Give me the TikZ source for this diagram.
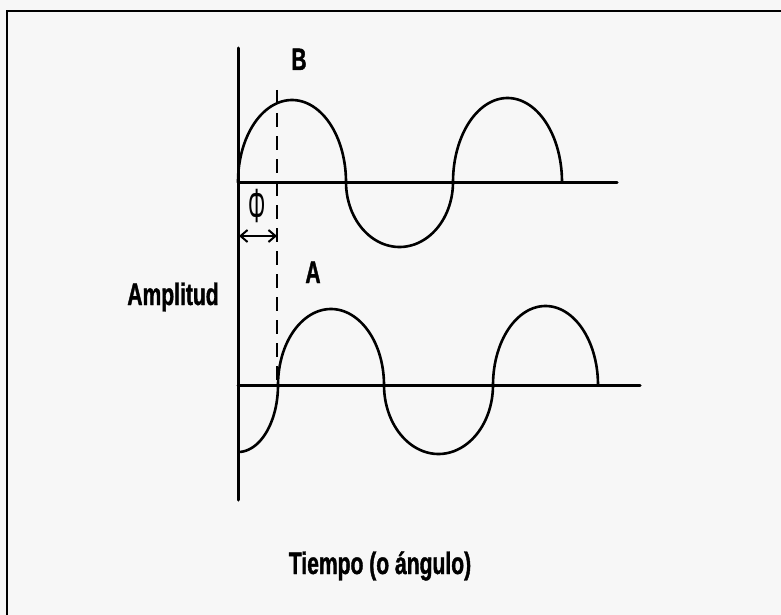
\documentclass[tikz,border=0pt]{standalone}
\usepackage{fontspec}
\setmainfont{Liberation Sans}
\newfontfamily\labfont[FakeStretch=0.68, FakeBold=1.2]{Liberation Sans}
\usetikzlibrary{arrows.meta}
\definecolor{bg}{RGB}{247,247,247}
\begin{document}
\begin{tikzpicture}[x=0.5pt,y=-0.5pt,
  axis/.style={line width=1.5pt, line cap=round},
  wave/.style={line width=1.3pt},
  frame/.style={line width=0.8pt},
  lab/.style={font=\labfont\bfseries\fontsize{15.5}{16}\selectfont, inner sep=0pt, anchor=base},
  phase/.style={line width=1pt, dash pattern=on 7pt off 4.5pt},
  span/.style={line width=1pt, {Straight Barb[length=3.5pt,width=6pt]}-{Straight Barb[length=3.5pt,width=6pt]}}]
\fill[bg] (0,0) rectangle (781,615);
\useasboundingbox (0,0) rectangle (781,615);
% frame
\draw[frame] (781,11) -- (7,11) -- (7,615);
% vertical axis
\coordinate (axtop) at (238,48);
\coordinate (axbot) at (238,500);
\draw[axis] (axtop) -- (axbot);
% baselines
\coordinate (bL) at (238,182);
\coordinate (bR) at (617,182);
\coordinate (aL) at (238,385);
\coordinate (aR) at (640,385);
\draw[axis] (bL) -- (bR);
\draw[axis] (aL) -- (aR);
% wave B
\draw[wave] plot[domain=180:0, samples=60, smooth] ({292+54*cos(\x)},{182-82*sin(\x)});
\draw[wave] plot[domain=180:360, samples=60, smooth] ({399.5+53.5*cos(\x)},{182-65*sin(\x)});
\draw[wave] plot[domain=180:0, samples=60, smooth] ({507.5+54.5*cos(\x)},{182-84*sin(\x)});
% wave A
\draw[wave] plot[domain=270:360, samples=40, smooth] ({238+40*cos(\x)},{385-67*sin(\x)});
\draw[wave] plot[domain=180:0, samples=60, smooth] ({331+53*cos(\x)},{385-76*sin(\x)});
\draw[wave] plot[domain=180:360, samples=60, smooth] ({438.5+54.5*cos(\x)},{385-69*sin(\x)});
\draw[wave] plot[domain=180:0, samples=60, smooth] ({545.5+52.5*cos(\x)},{385-79*sin(\x)});
% phase line
\coordinate (dtop) at (277,90);
\coordinate (dbot) at (277,385);
\draw[phase] (dtop) -- (dbot);
% phase arrow
\coordinate (phiL) at (239,236);
\coordinate (phiR) at (277,236);
\draw[span] (phiL) -- (phiR);
\node[inner sep=0pt, anchor=base, font=\fontsize{24}{24}\selectfont] (phi) at (257,222) {\scalebox{0.45}[1]{Φ}};
% labels
\node[lab] (labB) at (299,70) {B};
\node[lab] (labA) at (313,283) {A};
\node[lab] (amp) at (173,305) {Amplitud};
\node[lab] (tiempo) at (380,574) {Tiempo (o ángulo)};
\end{tikzpicture}
\end{document}
